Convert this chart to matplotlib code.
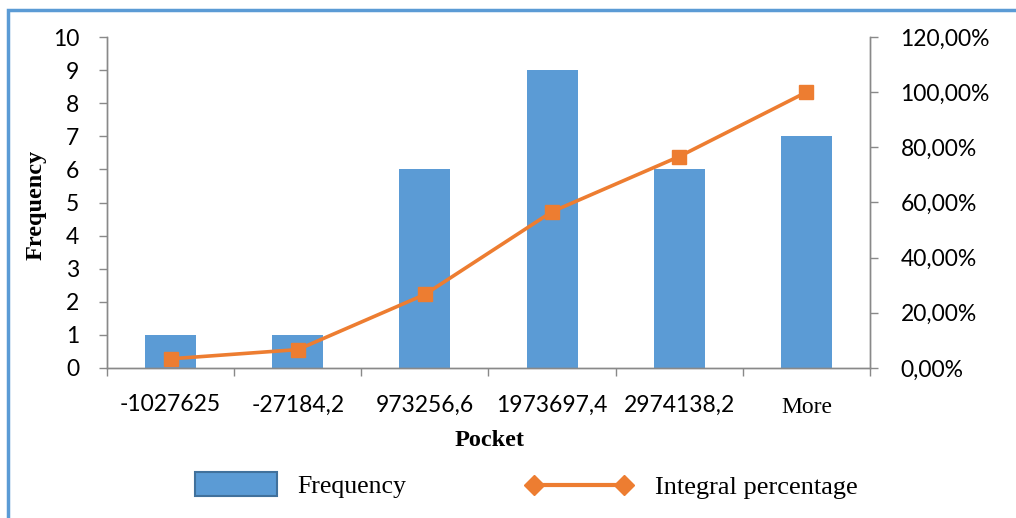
import matplotlib
matplotlib.use("Agg")
import matplotlib.pyplot as plt
from matplotlib.patches import Patch, Rectangle
from matplotlib.lines import Line2D
from matplotlib.ticker import FuncFormatter, MultipleLocator
import numpy as np

categories = ["-1027625", "-27184,2", "973256,6", "1973697,4", "2974138,2", "More"]
frequency = [1, 1, 6, 9, 6, 7]
integral_pct = [3.33, 6.67, 26.67, 56.67, 76.67, 100.0]

BLUE = "#5B9BD5"
ORANGE = "#ED7D31"
GRAY = "#898989"
W, H = 1016, 518

fig = plt.figure(figsize=(W / 100, H / 100), dpi=100)
ax = fig.add_axes([107 / W, 1 - 368 / H, (870 - 107) / W, (368 - 37) / H])
ax2 = ax.twinx()

x = np.arange(len(categories))
ax.bar(x, frequency, width=0.4, color=BLUE, zorder=2)
ax2.plot(x, integral_pct, color=ORANGE, lw=2.6, marker="s", markersize=10, zorder=3)

ax.set_xlim(-0.5, len(categories) - 0.5)
ax.set_ylim(0, 10)
ax2.set_ylim(0, 120)
ax.yaxis.set_major_locator(MultipleLocator(1))
ax2.yaxis.set_major_locator(MultipleLocator(20))
ax2.yaxis.set_major_formatter(FuncFormatter(lambda v, p: f"{v:.2f}%".replace(".", ",")))

ax.set_xticks(np.arange(-0.5, len(categories), 1.0))
ax.set_xticklabels([])
ax.set_xticks(x, minor=True)
ax.set_xticklabels(categories, minor=True)
ax.tick_params(axis="x", which="minor", length=0, pad=19)
ax.tick_params(axis="x", which="major", length=6, color=GRAY, width=1)

tickfont = "Lato"
for lab in ax.get_xticklabels(minor=True):
    lab.set_fontfamily(tickfont)
    lab.set_fontsize(16.5)
    if lab.get_text() == "More":
        lab.set_fontfamily("Liberation Serif")
        lab.set_fontsize(17)
        lab.set_y(-0.008)

ax.tick_params(axis="y", length=6, color=GRAY, width=1, pad=14, labelsize=16.5)
ax2.tick_params(axis="y", length=6, color=GRAY, width=1, pad=16, labelsize=16.5)
for lab in ax.get_yticklabels() + ax2.get_yticklabels():
    lab.set_fontfamily(tickfont)

for a in (ax, ax2):
    a.spines["top"].set_visible(False)
    for s in ("left", "right", "bottom"):
        a.spines[s].set_color(GRAY)
        a.spines[s].set_linewidth(1)

ax.set_zorder(ax2.get_zorder() - 1)
ax2.patch.set_visible(False)

fig.text(36 / W, 1 - 205 / H, "Frequency", rotation=90, ha="center", va="center",
         fontfamily="Liberation Serif", fontweight="bold", fontsize=17.5)
fig.text(490 / W, 1 - 441 / H, "Pocket", ha="center", va="center",
         fontfamily="Liberation Serif", fontweight="bold", fontsize=17.5)

legprop = {"family": "Liberation Serif", "size": 18.5}
bar_handle = Patch(facecolor=BLUE, edgecolor="#41719C", linewidth=1.5)
line_handle = Line2D([0], [0], color=ORANGE, lw=3, marker="D", markersize=10)

leg1 = fig.legend([bar_handle], ["Frequency"], loc="center left",
                  bbox_to_anchor=(195 / W, 1 - 485 / H), frameon=False,
                  prop=legprop, borderpad=0, borderaxespad=0, handlelength=3.2,
                  handleheight=1.05, handletextpad=0.8)
leg2 = fig.legend([line_handle], ["Integral percentage"], loc="center left",
                  bbox_to_anchor=(526 / W, 1 - 487 / H), frameon=False,
                  prop={"family": "Liberation Serif", "size": 19}, borderpad=0,
                  borderaxespad=0, handlelength=4.0, handletextpad=0.9, numpoints=2)

fig.patches.append(Rectangle((8 / W, -0.1), 1.2, 1 - 10 / H + 0.1, transform=fig.transFigure,
                             fill=False, edgecolor=BLUE, linewidth=2.5))

fig.savefig("out.png", dpi=100)
